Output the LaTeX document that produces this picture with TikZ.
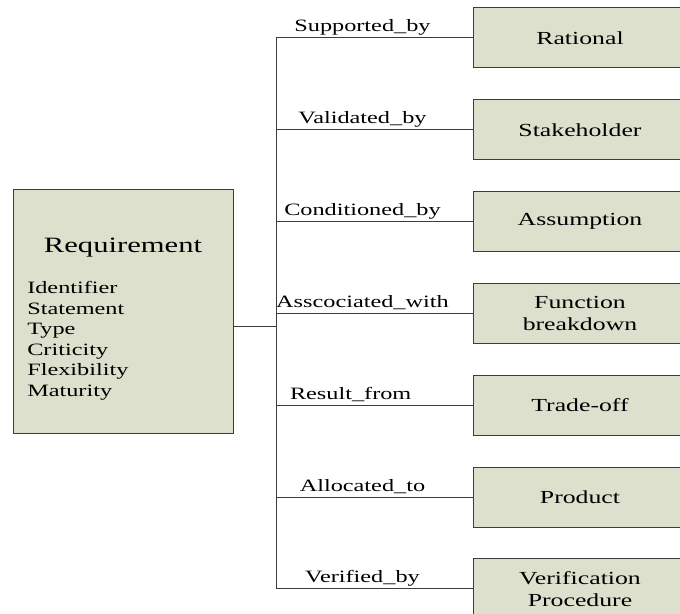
\documentclass[tikz,border=0pt]{standalone}
\usepackage{fontspec}
\setmainfont{Liberation Serif}[FakeStretch=1.4]
\usetikzlibrary{positioning}
\definecolor{boxfill}{RGB}{221,224,204}
\definecolor{linegray}{RGB}{60,60,60}

\begin{document}
\begin{tikzpicture}[x=0.75pt,y=-0.75pt,node distance=23.1pt,
	entity/.style={draw=linegray,fill=boxfill,line width=0.75pt,minimum width=160.5pt,
		minimum height=45pt,inner sep=0pt,align=center,font=\fontsize{13.8}{16.5}\selectfont},
	rel/.style={anchor=base,yshift=4.5pt,font=\fontsize{13}{15}\selectfont},
	link/.style={draw=linegray,line width=0.75pt}]
		\useasboundingbox (0,0) rectangle (680,613);
		\clip (0,0) rectangle (680,613);

		% left class
		\node[entity,minimum width=165pt,minimum height=183pt] (req) at (123,311) {};
		\node[anchor=base,font=\fontsize{16.4}{19}\selectfont] (reqname) at (123,252) {Requirement};
		\node[anchor=north west,inner sep=0pt,align=left,font=\fontsize{13}{15.4}\selectfont] (reqattr) at (27,281)
			{Identifier\\Statement\\Type\\Criticity\\Flexibility\\Maturity};

		% right classes
		\node[entity] (rat) at (580,38) {Rational};
		\node[entity] (stk) [below=of rat] {Stakeholder};
		\node[entity] (asm) [below=of stk] {Assumption};
		\node[entity] (fun) [below=of asm] {Function\\breakdown};
		\node[entity] (trd) [below=of fun] {Trade-off};
		\node[entity] (prd) [below=of trd] {Product};
		\node[entity] (ver) [below=of prd] {Verification\\Procedure};

		\coordinate (hub) at (276,326);
		\draw[link] (req.east |- hub) -- (hub);
		\draw[link] (hub |- rat) -- (hub |- ver);

		\draw[link] (hub |- rat) -- node[rel,pos=.44]{Supported\_by} (rat);
		\draw[link] (hub |- stk) -- node[rel,pos=.44]{Validated\_by} (stk);
		\draw[link] (hub |- asm) -- node[rel,pos=.44]{Conditioned\_by} (asm);
		\draw[link] (hub |- fun) -- node[rel,pos=.44]{Asscociated\_with} (fun);
		\draw[link] (hub |- trd) -- node[rel,pos=.38]{Result\_from} (trd);
		\draw[link] (hub |- prd) -- node[rel,pos=.44]{Allocated\_to} (prd);
		\draw[link] (hub |- ver) -- node[rel,pos=.44]{Verified\_by} (ver);
\end{tikzpicture}
\end{document}
